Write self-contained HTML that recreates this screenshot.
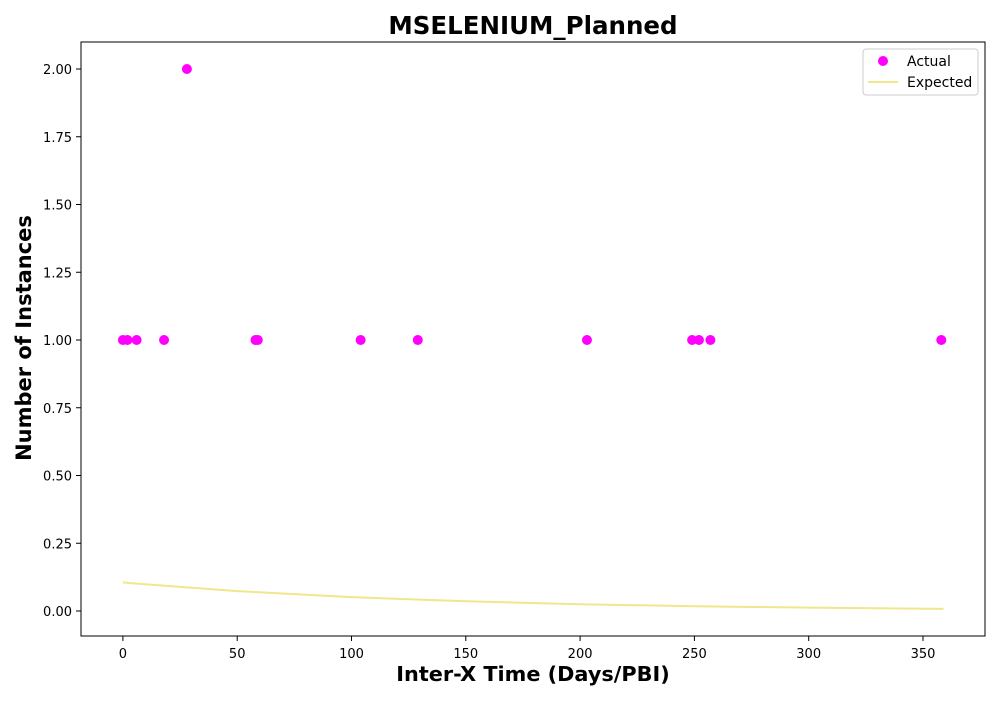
<!DOCTYPE html>
<html><head><meta charset="utf-8"><style>
body{margin:0;background:#fff;font-family:"Liberation Sans","DejaVu Sans",sans-serif;}
svg text{font-family:"DejaVu Sans","Liberation Sans",sans-serif;}
</style></head><body>
<svg id="chart" width="1000" height="700" xmlns="http://www.w3.org/2000/svg">
<rect width="1000" height="700" fill="#fff"/>
<text x="533" y="34" text-anchor="middle" font-size="24.5" font-weight="bold">MSELENIUM_Planned</text>
<g id="marks"></g>
<rect x="81" y="42" width="904" height="594" fill="none" stroke="#000" stroke-width="1"/>
<g id="axes"></g>
<text x="533" y="681" text-anchor="middle" font-size="20.8" font-weight="bold">Inter-X Time (Days/PBI)</text>
<text transform="translate(31,338) rotate(-90)" text-anchor="middle" font-size="21" font-weight="bold">Number of Instances</text>
<g>
<rect x="863" y="49" width="115" height="46" rx="3" fill="#fff" stroke="#ccc"/>
<circle cx="883" cy="61" r="5" fill="#ff00ff"/>
<text x="907" y="66" font-size="14">Actual</text>
<line x1="868" y1="82" x2="898" y2="82" stroke="#f0e68c" stroke-width="2"/>
<text x="907" y="87" font-size="14">Expected</text>
</g>
</svg>
<script>
const actualX=[0,2,6,18,28,58,59,104,129,203,249,252,257,358];
const actualY=[1,1,1,1,2,1,1,1,1,1,1,1,1,1];
const expectedX=[0,50,100,150,200,250,300,359];
const expectedY=[0.105,0.0735,0.051,0.036,0.025,0.0177,0.0124,0.008];
const xTicks=[0,50,100,150,200,250,300,350];
const yTicks=[0,0.25,0.5,0.75,1,1.25,1.5,1.75,2];
const NS="http://www.w3.org/2000/svg";
function sx(v){return 122.9+v*(114.3/50);}
function sy(v){return 611-v*(542/2);}
const marks=document.getElementById('marks'),axes=document.getElementById('axes');
function mk(t,a,p){const e=document.createElementNS(NS,t);for(const k in a)e.setAttribute(k,a[k]);p.appendChild(e);return e;}
let d=expectedX.map((x,i)=>(i?'L':'M')+sx(x).toFixed(2)+','+sy(expectedY[i]).toFixed(2)).join(' ');
const ln=mk('path',{d:d,fill:'none',stroke:'#f0e68c','stroke-width':2},marks);


actualX.forEach((x,i)=>{const c=mk('circle',{cx:sx(x),cy:sy(actualY[i]),r:5,fill:'#ff00ff'},marks);

});
xTicks.forEach(t=>{mk('line',{x1:sx(t),x2:sx(t),y1:636,y2:641,stroke:'#000'},axes);
const tx=mk('text',{x:sx(t),y:658,'text-anchor':'middle','font-size':13},axes);tx.textContent=t;

});
yTicks.forEach(t=>{mk('line',{x1:76,x2:81,y1:sy(t),y2:sy(t),stroke:'#000'},axes);
const tx=mk('text',{x:72,y:sy(t)+5,'text-anchor':'end','font-size':13},axes);tx.textContent=t.toFixed(2);

});
</script>
</body></html>
